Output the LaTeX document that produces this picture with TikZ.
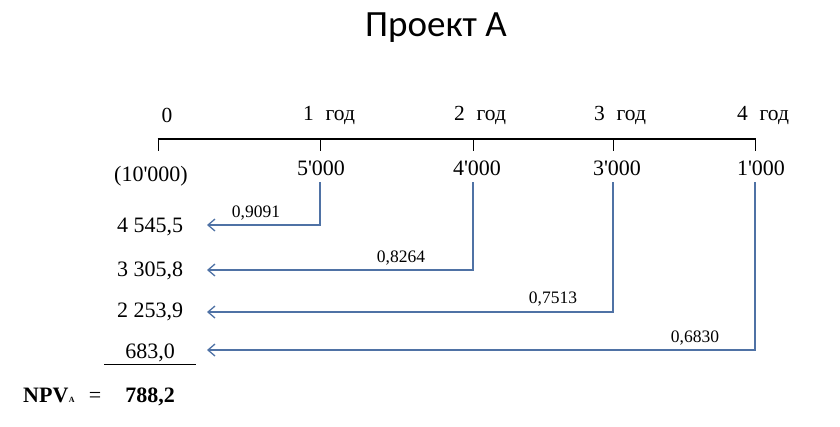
\documentclass[tikz,border=0pt]{standalone}
\usepackage{fontspec}
\setmainfont{Liberation Serif}[Ligatures=TeXOff]
\newfontfamily\titlefont{Carlito}
\usetikzlibrary{arrows.meta}
\definecolor{flowblue}{RGB}{79,114,165}
\begin{document}
\begin{tikzpicture}[x=1pt,y=-1pt,
  lbl/.style={font=\fontsize{21.5}{24}\selectfont, inner sep=0pt},
  val/.style={font=\fontsize{22}{26}\selectfont, inner sep=0pt},
  fac/.style={font=\fontsize{17.5}{20}\selectfont, inner sep=0pt},
  flow/.style={draw=flowblue, line width=1.8pt, -{Straight Barb[length=7pt,width=12pt,line width=1.3pt]}},
  axis/.style={line width=2.2pt},
  tick/.style={line width=1pt}]
\useasboundingbox (0,0) rectangle (840,426);
% title
\node[font=\titlefont\fontsize{37}{42}\selectfont, inner sep=0pt] (title) at (436,28) {Проект А};
% timeline
\coordinate (t0) at (158,139);
\coordinate (t1) at (320,139);
\coordinate (t2) at (473,139);
\coordinate (t3) at (613,139);
\coordinate (t4) at (755,139);
\draw[axis] ([xshift=-0.5pt]t0) -- ([xshift=0.5pt]t4);
\foreach \i in {0,...,4} \draw[tick] (t\i) -- ++(0,12);
% year labels
\node[lbl] (y0) at (167,115) {0};
\node[lbl] (y1) at (329,115) {1\hspace{0.55em}год};
\node[lbl] (y2) at (480,115) {2\hspace{0.55em}год};
\node[lbl] (y3) at (620,115) {3\hspace{0.55em}год};
\node[lbl] (y4) at (763,115) {4\hspace{0.55em}год};
% cash flows
\node[val] (c0) at (151,176) {(10'000)};
\node[val] (c1) at (321,168) {5'000};
\node[val] (c2) at (477,168) {4'000};
\node[val] (c3) at (617,168) {3'000};
\node[val] (c4) at (761,168) {1'000};
% present values
\node[val] (p1) at (150,227) {4 545,5};
\node[val] (p2) at (150,271) {3 305,8};
\node[val] (p3) at (150,312) {2 253,9};
\node[val] (p4) at (150,353) {683,0};
\coordinate (u1) at (104,364);
\coordinate (u2) at (196,364);
\draw[line width=1pt] (u1) -- (u2);
\node[val, font=\fontsize{22}{26}\selectfont\bfseries, anchor=base west] (npv) at (23,402) {NPV\hspace{0.5pt}{\fontsize{8}{9}\selectfont A}};
\node[val, anchor=base] (eq) at (95,402) {=};
\node[val, font=\fontsize{22}{26}\selectfont\bfseries, anchor=base] (res) at (150,402) {788,2};
% arrows
\coordinate (s1) at (320,182);
\coordinate (s2) at (473,182);
\coordinate (s3) at (613,182);
\coordinate (s4) at (755,182);
\coordinate (e1) at (207,225);
\coordinate (e2) at (207,270);
\coordinate (e3) at (207,312);
\coordinate (e4) at (207,350);
\draw[flow] (s1) |- (e1);
\draw[flow] (s2) |- (e2);
\draw[flow] (s3) |- (e3);
\draw[flow] (s4) |- (e4);
% factors
\node[fac] (f1) at (256,213) {0,9091};
\node[fac] (f2) at (401,258) {0,8264};
\node[fac] (f3) at (553,299) {0,7513};
\node[fac] (f4) at (695,338) {0,6830};
\end{tikzpicture}
\end{document}
